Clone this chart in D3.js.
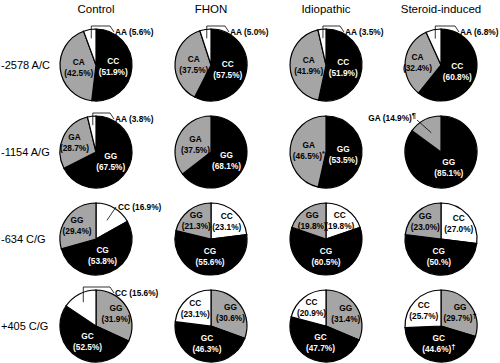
<!DOCTYPE html>
<html>
<head>
<meta charset="utf-8">
<title>Genotype distribution pies</title>
<style>
  body { margin: 0; background: #fff; }
  svg { display: block; font-family: Arial, "Liberation Sans", sans-serif; }
</style>
</head>
<body>
<script src="https://d3js.org/d3.v7.min.js"></script>
<script>
var groups = ["Control", "FHON", "Idiopathic", "Steroid-induced"];
var snps = ["-2578 A/C", "-1154 A/G", "-634 C/G", "+405 C/G"];

// genotypes of each SNP, clockwise from 12 o'clock
var genotypes = [
  ["CC", "CA", "AA"],
  ["GG", "GA", "AA"],
  ["CC", "CG", "GG"],
  ["GG", "GC", "CC"]
];

// percentages as printed; one entry per group (Control, FHON, Idiopathic, Steroid-induced)
var pct2578 = [["51.9", "42.5", "5.6"], ["57.5", "37.5", "5.0"], ["51.9", "41.9", "3.5"], ["60.8", "32.4", "6.8"]];
var pct1154 = [["67.5", "28.7", "3.8"], ["68.1", "37.5", "0"], ["53.5", "46.5", "0"], ["85.1", "14.9", "0"]];
var pct634  = [["16.9", "53.8", "29.4"], ["23.1", "55.6", "21.3"], ["19.8", "60.5", "19.8"], ["27.0", "50.", "23.0"]];
var pct405  = [["31.9", "52.5", "15.6"], ["30.6", "46.3", "23.1"], ["31.4", "47.7", "20.9"], ["29.7", "44.6", "25.7"]];
var pcts = [pct2578, pct1154, pct634, pct405];

// footnote marks printed after some percentages
var note1154 = [["", "", ""], ["", "", ""], ["", "*", ""], ["", "\u00b6", ""]];
var note405  = [["", "", ""], ["", "", ""], ["", "", ""], ["\u2020", "\u2020", ""]];
var notes = [null, note1154, null, note405];

// styling
var BLACK = "#000", GREY = "#a5a5a5", WHITE = "#fff";
var fills = [[BLACK, GREY, WHITE], [BLACK, GREY, WHITE], [WHITE, BLACK, GREY], [GREY, BLACK, WHITE]];
// how small slices are labelled outside the pie ("snp,group")
var callouts = {
  "0,0": "bracket", "0,1": "bracket", "0,2": "bracket", "0,3": "bracket",
  "1,0": "bracket", "1,3": "left", "2,0": "line", "3,0": "bracket"
};

var width = 500, height = 363, r = 36;

var svg = d3.select("body").append("svg")
    .attr("width", width)
    .attr("height", height);

var x = d3.scalePoint().domain(groups).range([96, 441]);
var y = d3.scalePoint().domain(snps).range([65, 326]);

var pie = d3.pie().sort(null).value(function(d){ return d.v; });
var arc = d3.arc().innerRadius(0).outerRadius(r);

// column headers
svg.selectAll(".header")
    .data(groups)
    .enter().append("text")
    .attr("class", "header")
    .attr("x", function(d){ return x(d); })
    .attr("y", 13)
    .attr("text-anchor", "middle")
    .attr("font-size", "11.5px")
    .text(function(d){ return d; });

// row labels
svg.selectAll(".rowlabel")
    .data(snps)
    .enter().append("text")
    .attr("class", "rowlabel")
    .attr("x", 1)
    .attr("y", function(d){ return y(d) + 4; })
    .attr("font-size", "11px")
    .text(function(d){ return d; });

function addPct(textSel, d) {
  textSel.append("tspan").text("(" + d.data.txt + "%)");
  if (d.data.note) {
    textSel.append("tspan")
        .attr("dy", -3)
        .attr("font-size", "7.5px")
        .text(d.data.note);
  }
}

snps.forEach(function(snp, i){
  groups.forEach(function(grp, j){
    var rows = genotypes[i].map(function(g, k){
      return {
        g: g,
        txt: pcts[i][j][k],
        v: +pcts[i][j][k],
        note: notes[i] ? notes[i][j][k] : "",
        fill: fills[i][k]
      };
    }).filter(function(d){ return d.v > 0; });

    var g = svg.append("g")
        .attr("transform", "translate(" + x(grp) + "," + y(snp) + ")");

    var arcs = pie(rows);

    g.selectAll("path")
        .data(arcs)
        .enter().append("path")
        .attr("d", arc)
        .attr("fill", function(d){ return d.data.fill; })
        .attr("stroke", "#000")
        .attr("stroke-width", 1.2);

    arcs.forEach(function(a){
      var frac = (a.endAngle - a.startAngle) / (2 * Math.PI);
      var mid = (a.startAngle + a.endAngle) / 2;
      var fs = "8.3px";

      if (frac >= 0.19) {
        var k = frac < 0.35 ? 0.66 : 0.48;
        var px = Math.sin(mid) * k * r, py = -Math.cos(mid) * k * r;
        var col = a.data.fill === BLACK ? "#fff" : "#000";
        g.append("text")
            .attr("x", px).attr("y", py - 2)
            .attr("text-anchor", "middle")
            .attr("font-size", fs).attr("font-weight", "bold")
            .attr("fill", col)
            .text(a.data.g);
        var t = g.append("text")
            .attr("x", px).attr("y", py + 9)
            .attr("text-anchor", "middle")
            .attr("font-size", fs).attr("font-weight", "bold")
            .attr("fill", col);
        addPct(t, a);
        return;
      }

      var style = callouts[i + "," + j];
      var lead, tx, ty, anchor = "start";
      if (style === "bracket") {
        var bx = Math.sin(mid) * 0.75 * r, by = -Math.cos(mid) * 0.75 * r;
        lead = "M" + bx + "," + by + "V" + (-r - 3) + "H14L18," + (-r + 3);
        tx = 19; ty = -r + 6;
      } else if (style === "left") {
        var lx = Math.sin(mid) * 0.6 * r, ly = -Math.cos(mid) * 0.6 * r;
        lead = "M" + lx + "," + ly + "L-24," + (-r + 4);
        tx = -25; ty = -r + 5; anchor = "end";
      } else {
        var sx = Math.sin(mid) * 0.6 * r, sy = -Math.cos(mid) * 0.6 * r;
        lead = "M" + sx + "," + sy + "L20," + (-r + 4);
        tx = 22; ty = -r + 7;
      }

      g.append("path")
          .attr("d", lead)
          .attr("fill", "none")
          .attr("stroke", "#000")
          .attr("stroke-width", 0.8);

      var ot = g.append("text")
          .attr("x", tx).attr("y", ty)
          .attr("text-anchor", anchor)
          .attr("font-size", fs).attr("font-weight", "bold")
          .attr("fill", "#000");
      ot.append("tspan").text(a.data.g + " ");
      addPct(ot, a);
    });
  });
});
</script>
</body>
</html>
